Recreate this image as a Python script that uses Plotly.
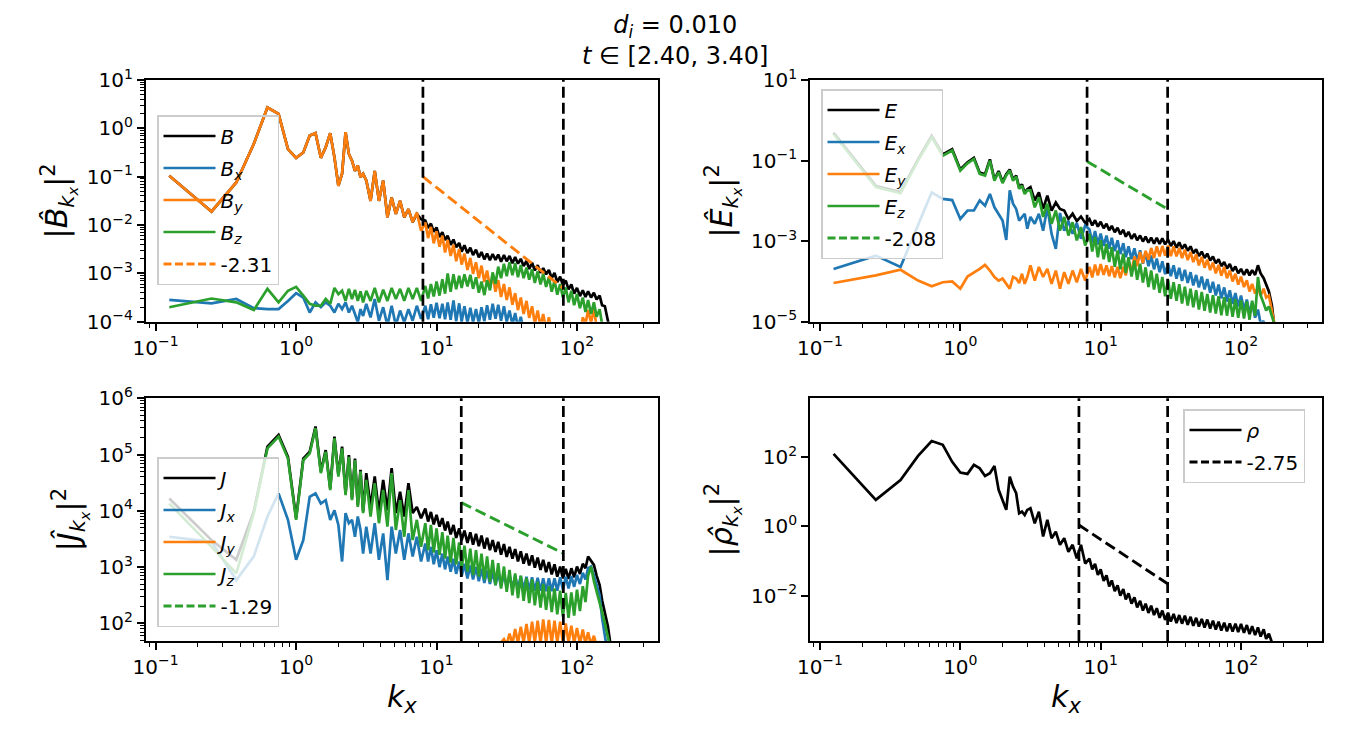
import numpy as np
import plotly.graph_objects as go

FONT = "DejaVu Sans"
BLACK, BLUE, ORANGE, GREEN = "black", "#1f77b4", "#ff7f0e", "#2ca02c"

# ---------------- wavenumber grid ----------------
k_lo = [0.125, 0.25, 0.375, 0.5, 0.625, 0.75, 0.875, 1.0, 1.125, 1.25, 1.375, 1.5,
        1.625, 1.75, 1.875, 2.0, 2.125, 2.25, 2.375, 2.5, 2.625, 2.75, 2.875, 3.0]
k_mid = [3.16, 3.39, 3.63, 3.89, 4.17, 4.47, 4.79, 5.13, 5.50, 5.89, 6.31, 6.76, 7.24, 7.76]
k_hi = [8.32, 8.71, 9.12, 9.55, 10.0, 10.5, 11.0, 11.5, 12.0, 12.6,
        13.2, 13.8, 14.5, 15.1, 15.8, 16.6, 17.4, 18.2, 19.1, 20.0,
        20.9, 21.9, 22.9, 24.0, 25.1, 26.3, 27.5, 28.8, 30.2, 31.6,
        33.1, 34.7, 36.3, 38.0, 39.8, 41.7, 43.7, 45.7, 47.9, 50.1,
        52.5, 55.0, 57.5, 60.3, 63.1, 66.1, 69.2, 72.4, 75.9, 79.4,
        83.2, 87.1, 91.2, 95.5, 100, 105, 110, 115, 120, 126,
        132, 138, 145, 151, 158, 166, 174]

# ---------------- spectra (log10 of the values) ----------------
# Panel 1 : magnetic field
B_lo = [-0.98, -1.72, -1.12, -0.32, 0.43, 0.30, -0.43, -0.61, -0.50, -0.15, -0.10, -0.61,
        -0.39, -0.10, -0.60, -1.19, -0.94, -0.08, -0.53, -0.67, -0.88, -0.77, -1.01, -0.94]
B_mid = [-1.08, -1.50, -0.88, -1.50, -1.08, -1.84, -1.43, -1.77, -1.50, -1.84, -1.67, -1.94, -1.77, -1.88]
B_hi = [-1.91, -2.06, -1.97, -2.14, -2.05, -2.25, -2.15, -2.31, -2.22, -2.41,
        -2.30, -2.46, -2.37, -2.55, -2.42, -2.58, -2.47, -2.62, -2.51, -2.67,
        -2.56, -2.71, -2.59, -2.73, -2.60, -2.72, -2.61, -2.76, -2.62, -2.75,
        -2.64, -2.79, -2.66, -2.80, -2.70, -2.85, -2.74, -2.91, -2.78, -2.94,
        -2.83, -2.99, -2.89, -3.02, -2.93, -3.10, -2.99, -3.18, -3.07, -3.24,
        -3.15, -3.33, -3.23, -3.42, -3.30, -3.47, -3.35, -3.49, -3.37, -3.50,
        -3.40, -3.54, -3.46, -3.66, -3.68, -3.98, -4.26]
Bx_lo = [-3.55, -3.62, -3.53, -3.72, -3.74, -3.74, -3.57, -3.41, -3.50, -3.81, -3.60, -3.70,
         -3.60, -3.67, -3.81, -3.63, -3.74, -3.60, -3.81, -3.67, -3.84, -4.01, -3.74, -3.88]
Bx_mid = [-3.63, -3.91, -3.53, -3.98, -3.70, -4.08, -3.67, -4.08, -3.77, -4.01, -3.74, -3.98, -3.67, -3.94]
Bx_hi = [-3.67, -3.95, -3.64, -3.92, -3.61, -3.93, -3.63, -3.95, -3.60, -3.96,
         -3.56, -3.99, -3.62, -4.00, -3.68, -4.02, -3.71, -4.01, -3.74, -4.03,
         -3.70, -3.99, -3.66, -3.96, -3.63, -3.94, -3.65, -3.98, -3.68, -4.00,
         -3.77, -4.06, -3.82, -4.12, -3.90, -4.18, -4.08, -4.30, -4.25, -4.45,
         -4.45, -4.6, -4.55, -4.7, -4.6, -4.75, -4.7, -4.8, -4.8, -4.9,
         -4.85, -4.95, -4.9, -5.0, -5.0, -5.1, -5.05, -5.15, -5.1, -5.2,
         -5.2, -5.3, -5.3, -5.4, -5.5, -5.7, -6.0]
By_lo = [-0.98, -1.72, -1.12, -0.32, 0.43, 0.30, -0.43, -0.61, -0.50, -0.15, -0.10, -0.61,
         -0.39, -0.10, -0.60, -1.19, -0.94, -0.08, -0.53, -0.67, -0.88, -0.77, -1.01, -0.94]
By_mid = [-1.08, -1.50, -0.88, -1.50, -1.08, -1.84, -1.43, -1.77, -1.50, -1.84, -1.67, -1.94, -1.74, -2.12]
By_hi = [-1.95, -2.27, -2.04, -2.38, -2.13, -2.45, -2.22, -2.57, -2.31, -2.64,
         -2.41, -2.75, -2.50, -2.82, -2.59, -2.93, -2.68, -3.01, -2.77, -3.10,
         -2.84, -3.18, -2.94, -3.29, -3.05, -3.38, -3.14, -3.49, -3.22, -3.55,
         -3.29, -3.65, -3.41, -3.76, -3.50, -3.84, -3.57, -3.92, -3.68, -4.04,
         -3.77, -4.10, -3.84, -4.17, -3.91, -4.24, -4.02, -4.40, -4.19, -4.45,
         -4.24, -4.50, -4.24, -4.45, -4.19, -4.30, -3.91, -4.05, -3.76, -4.02,
         -3.74, -4.10, -4.08, -4.45, -4.45, -4.80, -4.94]
Bz_lo = [-3.70, -3.52, -3.60, -3.76, -3.32, -3.60, -3.36, -3.28, -3.46, -3.63, -3.67, -3.67,
         -3.53, -3.63, -3.30, -3.43, -3.36, -3.57, -3.32, -3.53, -3.34, -3.57, -3.37, -3.60]
Bz_mid = [-3.36, -3.57, -3.30, -3.60, -3.34, -3.57, -3.30, -3.53, -3.32, -3.57, -3.30, -3.53, -3.30, -3.57]
Bz_hi = [-3.26, -3.52, -3.22, -3.48, -3.17, -3.46, -3.12, -3.42, -3.00, -3.38,
         -3.02, -3.33, -3.05, -3.30, -3.02, -3.27, -3.03, -3.32, -3.08, -3.40,
         -3.17, -3.45, -3.14, -3.35, -2.98, -3.22, -2.86, -3.10, -2.80, -3.06,
         -2.77, -3.04, -2.79, -3.08, -2.83, -3.10, -2.88, -3.13, -2.92, -3.20,
         -2.96, -3.23, -3.01, -3.28, -3.08, -3.38, -3.15, -3.44, -3.22, -3.50,
         -3.29, -3.60, -3.36, -3.66, -3.43, -3.72, -3.50, -3.80, -3.55, -3.84,
         -3.60, -3.90, -3.74, -4.05, -4.05, -4.35, -4.60]

# Panel 2 : electric field
E_lo = [-0.31, -1.63, -1.78, -0.97, -0.39, -0.85, -0.72, -1.22, -1.04, -0.93, -1.30, -1.34,
        -0.97, -1.47, -1.26, -1.53, -1.34, -1.22, -1.47, -1.37, -1.67, -1.59, -1.80, -1.71]
E_mid = [-1.66, -1.99, -1.79, -2.20, -1.87, -2.24, -2.04, -2.20, -2.24, -2.45, -2.32, -2.50, -2.39, -2.55]
E_hi = [-2.45, -2.61, -2.48, -2.64, -2.52, -2.68, -2.57, -2.73, -2.62, -2.78,
        -2.67, -2.83, -2.72, -2.89, -2.77, -2.94, -2.82, -2.98, -2.86, -3.01,
        -2.89, -3.04, -2.91, -3.06, -2.92, -3.07, -2.93, -3.08, -2.96, -3.12,
        -3.00, -3.16, -3.03, -3.19, -3.08, -3.24, -3.13, -3.30, -3.20, -3.37,
        -3.26, -3.42, -3.31, -3.48, -3.38, -3.55, -3.45, -3.62, -3.52, -3.68,
        -3.57, -3.74, -3.63, -3.80, -3.69, -3.84, -3.70, -3.85, -3.72, -3.84,
        -3.60, -3.80, -3.92, -4.10, -4.25, -4.60, -5.21]
Ex_lo = [-3.69, -3.36, -3.64, -2.59, -1.79, -1.95, -1.98, -2.45, -2.24, -2.24, -1.99, -2.12,
         -1.83, -2.16, -2.32, -2.49, -2.97, -1.74, -2.07, -2.20, -2.49, -2.40, -2.32, -2.69]
Ex_mid = [-2.40, -2.57, -2.32, -2.74, -2.16, -2.82, -3.19, -2.30, -2.74, -2.50, -2.82, -2.55, -2.94, -2.61]
Ex_hi = [-2.71, -3.03, -2.75, -3.08, -2.81, -3.12, -2.86, -3.19, -2.92, -3.25,
         -2.98, -3.32, -3.05, -3.40, -3.13, -3.45, -3.18, -3.50, -3.23, -3.56,
         -3.29, -3.62, -3.36, -3.70, -3.43, -3.77, -3.50, -3.82, -3.55, -3.87,
         -3.60, -3.93, -3.66, -3.99, -3.71, -4.04, -3.77, -4.10, -3.84, -4.15,
         -3.88, -4.20, -3.94, -4.28, -4.01, -4.35, -4.08, -4.42, -4.15, -4.50,
         -4.22, -4.56, -4.29, -4.62, -4.35, -4.70, -4.45, -4.80, -4.53, -4.90,
         -4.70, -5.05, -4.98, -5.30, -5.45, -5.70, -5.96]
Ey_lo = [-4.04, -3.85, -3.71, -3.98, -4.12, -4.02, -4.00, -4.18, -3.88, -3.79, -3.69, -3.59,
         -3.73, -3.89, -3.98, -3.93, -4.06, -4.18, -3.89, -3.93, -4.04, -3.81, -4.06, -3.89]
Ey_mid = [-3.60, -3.98, -3.64, -3.89, -3.69, -4.06, -3.73, -4.18, -3.77, -4.06, -3.73, -4.02, -3.69, -3.98]
Ey_hi = [-3.64, -3.90, -3.58, -3.85, -3.57, -3.84, -3.60, -3.87, -3.62, -3.90,
         -3.64, -3.92, -3.64, -3.85, -3.50, -3.75, -3.38, -3.62, -3.27, -3.55,
         -3.24, -3.46, -3.17, -3.42, -3.13, -3.38, -3.12, -3.36, -3.11, -3.37,
         -3.13, -3.38, -3.17, -3.42, -3.21, -3.47, -3.27, -3.52, -3.33, -3.60,
         -3.39, -3.66, -3.46, -3.72, -3.53, -3.80, -3.59, -3.86, -3.64, -3.92,
         -3.73, -4.00, -3.81, -4.08, -3.88, -4.14, -3.97, -4.25, -4.06, -4.30,
         -4.14, -4.36, -4.18, -4.40, -4.35, -4.70, -5.09]
Ez_lo = [-0.34, -1.66, -1.81, -1.00, -0.42, -0.88, -0.75, -1.25, -1.07, -0.96, -1.33, -1.37,
         -1.00, -1.50, -1.29, -1.56, -1.37, -1.25, -1.50, -1.40, -1.70, -1.62, -1.83, -1.74]
Ez_mid = [-1.74, -2.16, -1.91, -2.40, -2.07, -2.57, -2.24, -2.74, -2.40, -2.86, -2.53, -2.98, -2.65, -3.11]
Ez_hi = [-2.82, -3.26, -2.90, -3.40, -2.98, -3.45, -3.07, -3.52, -3.15, -3.64,
         -3.23, -3.70, -3.31, -3.79, -3.40, -3.88, -3.48, -3.96, -3.56, -4.03,
         -3.65, -4.14, -3.73, -4.20, -3.81, -4.28, -3.89, -4.37, -3.96, -4.43,
         -4.02, -4.48, -4.07, -4.55, -4.13, -4.60, -4.18, -4.64, -4.22, -4.70,
         -4.26, -4.73, -4.31, -4.77, -4.34, -4.80, -4.37, -4.84, -4.39, -4.85,
         -4.42, -4.88, -4.45, -4.90, -4.47, -4.92, -4.50, -4.95, -4.48, -4.85,
         -3.89, -4.35, -4.55, -4.72, -4.62, -4.88, -5.09]

# Panel 3 : current density
J_lo = [4.22, 3.48, 3.13, 3.99, 5.14, 5.35, 4.96, 3.87, 4.93, 5.05, 5.50, 4.70,
        5.08, 4.40, 5.32, 4.64, 5.14, 4.31, 4.99, 4.22, 4.93, 4.10, 4.73, 3.99]
J_mid = [4.67, 4.07, 4.61, 3.96, 4.55, 4.01, 4.76, 3.96, 4.34, 3.90, 4.49, 3.96, 4.07, 3.87]
J_hi = [4.04, 3.81, 3.98, 3.76, 3.93, 3.72, 3.87, 3.65, 3.81, 3.58,
        3.75, 3.52, 3.69, 3.48, 3.65, 3.43, 3.62, 3.40, 3.59, 3.37,
        3.56, 3.33, 3.52, 3.30, 3.48, 3.27, 3.45, 3.22, 3.41, 3.18,
        3.36, 3.15, 3.32, 3.10, 3.28, 3.06, 3.24, 3.03, 3.21, 2.99,
        3.17, 2.95, 3.13, 2.91, 3.09, 2.87, 3.05, 2.83, 3.01, 2.80,
        2.97, 2.79, 2.98, 2.82, 3.01, 2.88, 3.06, 2.98, 3.19, 3.12,
        3.04, 2.85, 2.68, 2.41, 2.20, 1.95, 1.59]
Jx_lo = [3.54, 3.45, 2.77, 3.19, 3.90, 4.31, 3.84, 3.13, 3.48, 4.25, 4.31, 4.13,
         4.19, 3.84, 4.01, 3.75, 3.10, 3.96, 3.78, 3.84, 3.54, 3.90, 3.66, 3.24]
Jx_mid = [3.72, 3.24, 3.78, 3.13, 3.60, 2.77, 3.72, 3.24, 3.66, 3.13, 3.60, 3.19, 3.54, 3.10]
Jx_hi = [3.42, 3.10, 3.36, 3.05, 3.30, 3.00, 3.24, 2.96, 3.19, 2.92,
         3.15, 2.88, 3.10, 2.84, 3.06, 2.80, 3.03, 2.78, 3.00, 2.75,
         2.97, 2.72, 2.94, 2.70, 2.92, 2.68, 2.90, 2.66, 2.88, 2.64,
         2.86, 2.62, 2.85, 2.61, 2.84, 2.60, 2.83, 2.59, 2.82, 2.58,
         2.81, 2.58, 2.80, 2.57, 2.80, 2.57, 2.80, 2.58, 2.82, 2.60,
         2.83, 2.62, 2.84, 2.65, 2.86, 2.70, 2.90, 2.78, 2.98, 3.01,
         2.85, 2.70, 2.50, 2.10, 1.80, 1.50, 1.11]
Jy_lo = [1.2, 1.0, 0.9, 1.1, 1.3, 1.2, 1.0, 0.9, 1.1, 1.2, 1.0, 1.1,
         0.9, 1.0, 1.2, 1.1, 0.9, 1.0, 1.1, 0.9, 1.0, 1.1, 0.9, 1.0]
Jy_mid = [0.8, 0.9, 0.8, 1.0, 0.9, 1.0, 0.9, 1.1, 1.0, 1.1, 1.0, 1.2, 1.1, 1.2]
Jy_hi = [1.1, 1.2, 1.1, 1.2, 1.1, 1.2, 1.2, 1.3, 1.2, 1.3,
         1.2, 1.3, 1.3, 1.4, 1.3, 1.4, 1.3, 1.4, 1.4, 1.5,
         1.4, 1.5, 1.4, 1.5, 1.5, 1.6, 1.5, 1.66, 1.72, 1.62,
         1.82, 1.64, 1.90, 1.65, 1.94, 1.66, 1.99, 1.65, 2.03, 1.66,
         2.05, 1.65, 2.07, 1.66, 2.06, 1.65, 2.05, 1.66, 2.03, 1.65,
         2.00, 1.66, 1.96, 1.65, 1.92, 1.64, 1.89, 1.64, 1.84, 1.62,
         1.78, 1.60, 1.68, 1.55, 1.48, 1.38, 1.23]
Jz_lo = [4.13, 3.36, 2.89, 3.96, 5.11, 5.32, 4.93, 3.84, 4.90, 5.02, 5.47, 4.67,
         5.05, 4.37, 5.29, 4.61, 5.11, 4.28, 4.96, 4.19, 4.90, 4.07, 4.70, 3.96]
Jz_mid = [4.55, 3.90, 4.49, 3.78, 4.37, 3.72, 4.67, 3.66, 4.19, 3.54, 4.37, 3.48, 3.84, 3.36]
Jz_hi = [3.78, 3.30, 3.75, 3.26, 3.69, 3.22, 3.62, 3.15, 3.56, 3.08,
         3.52, 3.05, 3.44, 2.98, 3.38, 2.92, 3.33, 2.86, 3.30, 2.83,
         3.24, 2.78, 3.19, 2.74, 3.13, 2.68, 3.07, 2.62, 3.01, 2.56,
         2.95, 2.50, 2.89, 2.45, 2.85, 2.40, 2.81, 2.36, 2.78, 2.32,
         2.74, 2.28, 2.70, 2.24, 2.66, 2.20, 2.62, 2.16, 2.58, 2.12,
         2.54, 2.10, 2.55, 2.14, 2.60, 2.22, 2.66, 2.38, 2.85, 3.01,
         2.75, 2.55, 2.38, 2.20, 2.00, 1.78, 1.53]

# Panel 4 : charge density
rho_lo = [2.10, 0.77, 1.34, 2.04, 2.47, 2.36, 1.87, 1.56, 1.52, 1.78, 1.68, 1.46,
          1.54, 1.75, 1.06, 0.75, 0.48, 1.44, 1.15, 0.96, 0.38, 0.43, 0.33, 0.48]
rho_mid = [0.53, 0.09, 0.43, -0.29, 0.19, -0.34, -0.15, -0.53, -0.34, -0.73, -0.53, -0.92, -0.53, -1.07]
rho_hi = [-0.93, -1.24, -1.08, -1.40, -1.24, -1.57, -1.41, -1.73, -1.56, -1.87,
          -1.70, -2.00, -1.81, -2.11, -1.93, -2.23, -2.05, -2.34, -2.15, -2.43,
          -2.23, -2.50, -2.29, -2.56, -2.36, -2.64, -2.43, -2.70, -2.49, -2.75,
          -2.53, -2.79, -2.56, -2.81, -2.58, -2.84, -2.61, -2.87, -2.64, -2.89,
          -2.67, -2.92, -2.69, -2.95, -2.72, -2.98, -2.75, -3.01, -2.78, -3.03,
          -2.80, -3.04, -2.81, -3.05, -2.82, -3.07, -2.85, -3.11, -2.88, -3.14,
          -2.92, -3.18, -2.97, -3.25, -3.10, -3.35, -3.40]

# ---------------- fit ranges and fitted power-law segments ----------------
fit_B_k, fit_B, slope_B = [8, 80], [1.0e-1, 4.9e-4], "-2.31"
fit_E_k, fit_E, slope_E = [8, 30], [9.5e-2, 6.2e-3], "-2.08"
fit_J_k, fit_J, slope_J = [15, 80], [1.4e4, 1.75e3], "-1.29"
fit_r_k, fit_r, slope_r = [7, 30], [1.1, 2.2e-2], "-2.75"

k = np.array(k_lo + k_mid + k_hi)


def spec(lo, mid, hi):
    return 10.0 ** np.array(lo + mid + hi)


fig = go.Figure()
LW = 2.7
FD = "11px,5px"       # dash pattern used in the plot area
FD_LEG = "8px,3.5px"  # same pattern shortened so it fits the legend sample


def add(name, y, color, xa, ya, leg, kk=None):
    fig.add_trace(go.Scatter(
        x=k if kk is None else kk, y=y, mode="lines", name=name,
        line=dict(color=color, width=LW),
        xaxis=xa, yaxis=ya, legend=leg, legendgroup=leg + name,
        showlegend=True, hoverinfo="skip"))


def add_fit(name, kk, y, color, xa, ya, leg):
    # fitted segment, drawn in the panel
    fig.add_trace(go.Scatter(
        x=kk, y=y, mode="lines", name=name, line=dict(color=color, width=2.9, dash=FD),
        xaxis=xa, yaxis=ya, legend=leg, legendgroup=leg + name,
        showlegend=False, hoverinfo="skip"))
    # legend-only entry for it (no data drawn)
    fig.add_trace(go.Scatter(
        x=[None], y=[None], mode="lines", name=name,
        line=dict(color=color, width=2.9, dash=FD_LEG),
        xaxis=xa, yaxis=ya, legend=leg, legendgroup=leg + name,
        showlegend=True, hoverinfo="skip"))


def sub(s):
    return "<sub><i>" + s + "</i></sub>"


add("<i>B</i>", spec(B_lo, B_mid, B_hi), BLACK, "x", "y", "legend")
add("<i>B</i>" + sub("x"), spec(Bx_lo, Bx_mid, Bx_hi), BLUE, "x", "y", "legend")
add("<i>B</i>" + sub("y"), spec(By_lo, By_mid, By_hi), ORANGE, "x", "y", "legend")
add("<i>B</i>" + sub("z"), spec(Bz_lo, Bz_mid, Bz_hi), GREEN, "x", "y", "legend")
add_fit(slope_B, fit_B_k, fit_B, ORANGE, "x", "y", "legend")

add("<i>E</i>", spec(E_lo, E_mid, E_hi), BLACK, "x2", "y2", "legend2")
add("<i>E</i>" + sub("x"), spec(Ex_lo, Ex_mid, Ex_hi), BLUE, "x2", "y2", "legend2")
add("<i>E</i>" + sub("y"), spec(Ey_lo, Ey_mid, Ey_hi), ORANGE, "x2", "y2", "legend2")
add("<i>E</i>" + sub("z"), spec(Ez_lo, Ez_mid, Ez_hi), GREEN, "x2", "y2", "legend2")
add_fit(slope_E, fit_E_k, fit_E, GREEN, "x2", "y2", "legend2")

add("<i>J</i>", spec(J_lo, J_mid, J_hi), BLACK, "x3", "y3", "legend3")
add("<i>J</i>" + sub("x"), spec(Jx_lo, Jx_mid, Jx_hi), BLUE, "x3", "y3", "legend3")
add("<i>J</i>" + sub("y"), spec(Jy_lo, Jy_mid, Jy_hi), ORANGE, "x3", "y3", "legend3")
add("<i>J</i>" + sub("z"), spec(Jz_lo, Jz_mid, Jz_hi), GREEN, "x3", "y3", "legend3")
add_fit(slope_J, fit_J_k, fit_J, GREEN, "x3", "y3", "legend3")

add("<i>ρ</i>", spec(rho_lo, rho_mid, rho_hi), BLACK, "x4", "y4", "legend4")
add_fit(slope_r, fit_r_k, fit_r, BLACK, "x4", "y4", "legend4")

# vertical dashed lines marking the fit range
for xr, kr in (("x", fit_B_k), ("x2", fit_E_k), ("x3", fit_J_k), ("x4", fit_r_k)):
    yr = xr.replace("x", "y")
    for kv in kr:
        fig.add_shape(type="line", xref=xr, yref=yr + " domain", x0=kv, x1=kv, y0=0, y1=1,
                      line=dict(color="black", width=2.7, dash=FD), layer="above")

W, H = 1350, 750
XL = [145.7 / W, 658 / W]
XR = [810 / W, 1322 / W]
YT = [1 - 321.7 / H, 1 - 80 / H]
YB = [1 - 641 / H, 1 - 398.3 / H]

TICKF = dict(family=FONT, size=20, color="black")
LABF = dict(family=FONT, size=30, color="black")


def decade_minor(lo, hi):
    out = []
    for e in range(lo, hi + 1):
        for m in range(2, 10):
            out.append(m * 10.0 ** e)
    return out


def sup(e):
    return "10<sup>" + (str(e) if e >= 0 else "\u2212" + str(-e)) + "</sup>"


x_major = [0.1, 1, 10, 100]
x_text = [sup(-1), sup(0), sup(1), sup(2)]
x_minor = [0.09] + decade_minor(-1, 1) + [200, 300]


def xaxis(dom, anchor, title=None):
    d = dict(domain=dom, anchor=anchor, type="log", range=[-1.071, 2.577],
             tickmode="array", tickvals=x_major, ticktext=x_text,
             ticks="outside", ticklen=7, tickwidth=1.6, tickcolor="black",
             showline=True, mirror=True, linecolor="black", linewidth=1.6,
             showgrid=False, zeroline=False, tickfont=TICKF, automargin=False,
             minor=dict(tickmode="array", tickvals=x_minor, ticks="outside",
                        ticklen=4, tickwidth=1.2, tickcolor="black", showgrid=False))
    if title:
        d["title"] = dict(text=title, font=LABF, standoff=8)
    return d


def yaxis(dom, anchor, rng, majors, minors, title):
    d = dict(domain=dom, anchor=anchor, type="log", range=rng,
             tickmode="array", tickvals=[10.0 ** e for e in majors],
             ticktext=[sup(e) for e in majors],
             ticks="outside", ticklen=7, tickwidth=1.6, tickcolor="black",
             showline=True, mirror=True, linecolor="black", linewidth=1.6,
             showgrid=False, zeroline=False, tickfont=TICKF, automargin=False,
             title=dict(text=title, font=LABF, standoff=10))
    if minors:
        d["minor"] = dict(tickmode="array", tickvals=minors, ticks="outside",
                          ticklen=4, tickwidth=1.2, tickcolor="black", showgrid=False)
    return d


KX = "<sub><i>k</i><sub><i>x</i></sub></sub>"
ylab1 = "|<i>B\u0302</i>" + KX + "|<sup>2</sup>"
ylab2 = "|<i>\u00ca</i>" + KX + "|<sup>2</sup>"
ylab3 = "|<i>\u0134</i>" + KX + "|<sup>2</sup>"
ylab4 = "|<i>\u03c1\u0302</i>" + KX + "|<sup>2</sup>"
xlab = "<i>k</i><sub><i>x</i></sub>"

LEGF = dict(family=FONT, size=20, color="black")


def legend(x, y, bg):
    return dict(x=x / W, y=1 - y / H, xanchor="left", yanchor="top", bgcolor=bg,
                bordercolor="#cccccc", borderwidth=1.5, font=LEGF,
                tracegroupgap=3, itemwidth=52)


fig.update_layout(
    width=W, height=H, margin=dict(l=0, r=0, t=0, b=0),
    paper_bgcolor="white", plot_bgcolor="white",
    font=dict(family=FONT, color="black"),
    xaxis=xaxis(XL, "y"), yaxis=yaxis(YT, "x", [-4, 1], [-4, -3, -2, -1, 0, 1],
                                       decade_minor(-4, 0), ylab1),
    xaxis2=xaxis(XR, "y2"), yaxis2=yaxis(YT, "x2", [-5, 1], [-5, -3, -1, 1], None, ylab2),
    xaxis3=xaxis(XL, "y3", xlab), yaxis3=yaxis(YB, "x3", [1.687, 6], [2, 3, 4, 5, 6],
                                                [50, 60, 70, 80, 90] + decade_minor(2, 5), ylab3),
    xaxis4=xaxis(XR, "y4", xlab), yaxis4=yaxis(YB, "x4", [-3.31, 3.705], [-2, 0, 2], None, ylab4),
    legend=legend(157, 115, "rgba(255,255,255,0)"),
    legend2=legend(821, 89, "rgba(255,255,255,0.8)"),
    legend3=legend(157, 457, "rgba(255,255,255,0.8)"),
    legend4=legend(1183, 409, "rgba(255,255,255,0.8)"),
    showlegend=True,
)

fig.add_annotation(text="<i>d</i><sub><i>i</i></sub> = 0.010<br><i>t</i> \u2208 [2.40, 3.40]",
                   xref="paper", yref="paper", x=0.5, y=1 - 9 / H, xanchor="center",
                   yanchor="top", showarrow=False, font=dict(family=FONT, size=24, color="black"))

fig.write_html("out.html")
